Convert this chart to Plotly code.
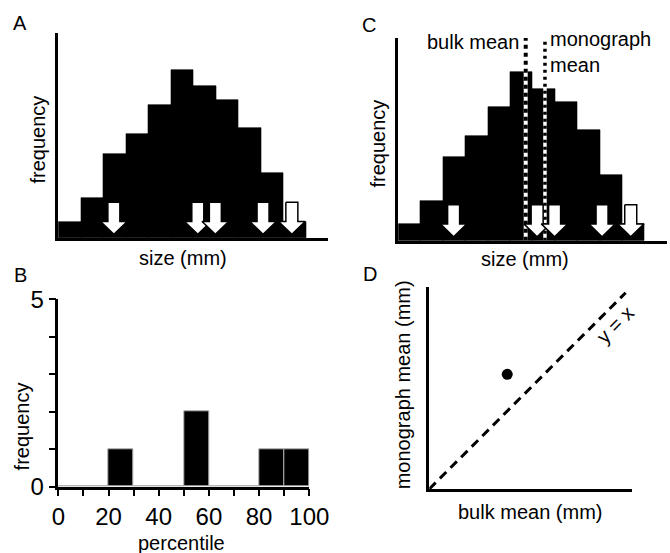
import plotly.graph_objects as go

W, H = 670, 553
FONT = "Liberation Sans, Arial, Helvetica, sans-serif"

# ---------------- data ----------------
size_bin_centres = [0.5, 1.5, 2.5, 3.5, 4.5, 5.5, 6.5, 7.5, 8.5, 9.5, 10.5]
size_freq = [1.0, 2.4, 5.05, 6.28, 8.05, 10.15, 9.15, 8.35, 6.65, 3.95, 1.0]
monograph_sizes = [2.47, 6.2, 6.98, 9.1, 10.38]
bulk_mean = 5.69
monograph_mean = 6.55

percentile_centres = [5, 15, 25, 35, 45, 55, 65, 75, 85, 95]
percentile_counts = [0, 0, 1, 0, 0, 2, 0, 0, 1, 1]
percentile_ticks = [0, 10, 20, 30, 40, 50, 60, 70, 80, 90, 100]
percentile_ticklabels = ["0", "", "20", "", "40", "", "60", "", "80", "", "100"]
freq_ticks = [0, 1, 2, 3, 4, 5]
freq_ticklabels = ["0", "", "", "", "", "5"]

d_bulk_mean = [0.385]
d_monograph_mean = [0.567]
identity = [0, 0.97]

# ---------------- layout helpers (pixel -> paper) ----------------
def dom_x(a, b):
    return [a / W, b / W]

def dom_y(top, bottom):
    return [1 - bottom / H, 1 - top / H]

def px(x):
    return x / W

def py(y):
    return 1 - y / H

fig = go.Figure()

# panel geometry (pixels)
A = dict(x0=58.3, x1=328.3, top=33.0, base=238.3)
C = dict(x0=398.3, x1=667.0, top=38.0, base=240.7)
PX_PER_UNIT_Y = 16.6
N_BINS_RANGE = 12


def arrow_poly(xc, xscale, yscale):
    # geometry in pixels converted to data units
    sw = 6.0 / xscale
    hw = 13.3 / xscale
    top = 36.0 / yscale
    hb = 16.8 / yscale
    tip = 4.0 / yscale
    xs = [xc - sw, xc + sw, xc + sw, xc + hw, xc, xc - hw, xc - sw, xc - sw]
    ys = [top, top, hb, hb, tip, hb, hb, top]
    return xs, ys


def hist_panel(xa, ya, P, with_means=False):
    xscale = (P["x1"] - P["x0"]) / N_BINS_RANGE
    fig.add_trace(go.Bar(x=size_bin_centres, y=size_freq, width=1.0,
                         marker=dict(color="black", line=dict(color="black", width=0.6)),
                         xaxis=xa, yaxis=ya, hoverinfo="skip"))
    ytop = (P["base"] - P["top"]) / PX_PER_UNIT_Y
    if with_means:
        for xm, dash, wd in [(bulk_mean, "4px,4px", 4), (monograph_mean, "3px,4px", 3.5)]:
            fig.add_trace(go.Scatter(x=[xm, xm], y=[0, ytop], mode="lines",
                                     line=dict(color="white", width=wd),
                                     xaxis=xa, yaxis=ya, hoverinfo="skip"))
            fig.add_trace(go.Scatter(x=[xm, xm], y=[0, ytop], mode="lines",
                                     line=dict(color="black", width=wd, dash=dash),
                                     xaxis=xa, yaxis=ya, hoverinfo="skip"))
    for s in monograph_sizes:
        xs, ys = arrow_poly(s, xscale, PX_PER_UNIT_Y)
        fig.add_trace(go.Scatter(x=xs, y=ys, mode="lines", fill="toself",
                                 fillcolor="white", line=dict(color="black", width=1.5),
                                 xaxis=xa, yaxis=ya, hoverinfo="skip"))
    return ytop


ytopA = hist_panel("x", "y", A)
ytopC = hist_panel("x2", "y2", C, with_means=True)

# panel B bars
fig.add_trace(go.Bar(x=percentile_centres, y=percentile_counts, width=10,
                     marker=dict(color="black", line=dict(color="#b0b0b0", width=1)),
                     xaxis="x3", yaxis="y3", hoverinfo="skip"))

# panel D
fig.add_trace(go.Scatter(x=identity, y=identity, mode="lines",
                         line=dict(color="black", width=3, dash="9px,6px"),
                         xaxis="x4", yaxis="y4", hoverinfo="skip"))
fig.add_trace(go.Scatter(x=d_bulk_mean, y=d_monograph_mean, mode="markers",
                         marker=dict(color="black", size=11),
                         xaxis="x4", yaxis="y4", hoverinfo="skip"))

plain = dict(showline=True, linecolor="black", linewidth=2.5, showgrid=False,
             zeroline=False, ticks="", showticklabels=False, fixedrange=True,
             automargin=False)

tick_axis = dict(showline=True, linecolor="black", linewidth=2.5, showgrid=False,
                 zeroline=False, tickmode="array", ticks="outside", ticklen=7,
                 tickwidth=2, tickcolor="black", automargin=False,
                 tickfont=dict(size=24, family=FONT, color="black"), fixedrange=True)

fig.update_layout(
    template="none",
    width=W, height=H,
    margin=dict(l=0, r=0, t=0, b=0, pad=0, autoexpand=False),
    paper_bgcolor="white", plot_bgcolor="white", showlegend=False,
    font=dict(family=FONT, color="black"),
    bargap=0,
    xaxis=dict(plain, domain=dom_x(A["x0"], A["x1"]), range=[0, N_BINS_RANGE], anchor="y"),
    yaxis=dict(plain, domain=dom_y(A["top"], A["base"]), range=[0, ytopA], anchor="x"),
    xaxis2=dict(plain, domain=dom_x(C["x0"], C["x1"]), range=[0, N_BINS_RANGE], anchor="y2"),
    yaxis2=dict(plain, domain=dom_y(C["top"], C["base"]), range=[0, ytopC], anchor="x2"),
    xaxis3=dict(tick_axis, domain=dom_x(58.3, 309.3), range=[0, 100], anchor="y3",
                tickvals=percentile_ticks, ticktext=percentile_ticklabels),
    yaxis3=dict(tick_axis, domain=dom_y(299.3, 486.7), range=[0, 5], anchor="x3",
                tickvals=freq_ticks, ticktext=freq_ticklabels),
    xaxis4=dict(plain, domain=dom_x(429.3, 631.7), range=[0, 1], anchor="y4"),
    yaxis4=dict(plain, domain=dom_y(286.7, 489.0), range=[0, 1], anchor="x4"),
)

ann = []

def text(t, x, y, size=20, xanchor="center", yanchor="middle", angle=0, align="center"):
    ann.append(dict(text=t, x=px(x), y=py(y), xref="paper", yref="paper",
                    showarrow=False, xanchor=xanchor, yanchor=yanchor, align=align,
                    textangle=angle, font=dict(size=size, family=FONT, color="black")))

# panel letters
text("A", 20, 22.5, size=20)
text("B", 20.5, 275, size=20)
text("C", 368.5, 25, size=20)
text("D", 370, 274, size=20)

# axis titles
text("frequency", 37.5, 140, angle=-90)
text("size (mm)", 183.3, 257.5)
text("frequency", 377.5, 144, angle=-90)
text("size (mm)", 524.7, 259)
text("frequency", 21.7, 426.7, angle=-90)
text("percentile", 181.7, 543)
text("monograph mean (mm)", 403.3, 385, angle=-90)
text("bulk mean (mm)", 530, 511.7)

# panel C labels
text("bulk mean", 521, 42, xanchor="right")
text("monograph<br>mean", 548, 52, xanchor="left", align="left")

# panel D line label
text("y = x", 615, 325, angle=-45)

fig.update_layout(annotations=ann)

fig.write_html("out.html")
